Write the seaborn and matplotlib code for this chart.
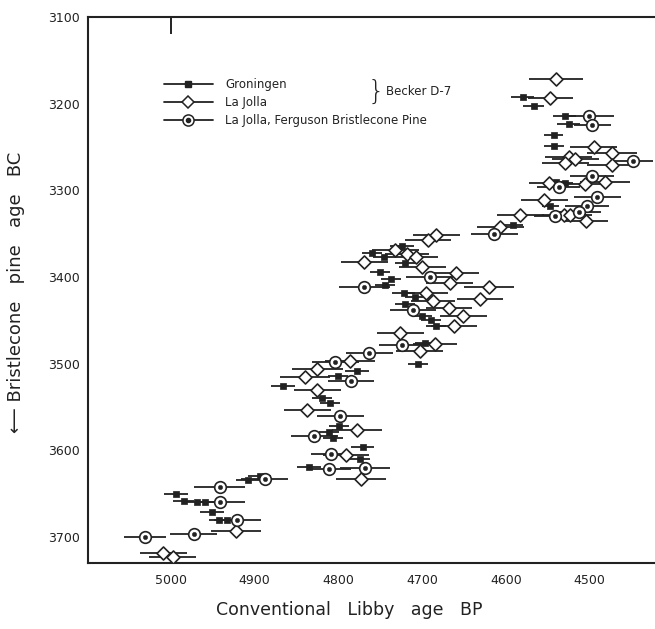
import matplotlib
matplotlib.use("Agg")
import matplotlib.pyplot as plt
import seaborn as sns
import pandas as pd
from matplotlib.lines import Line2D
from matplotlib.legend_handler import HandlerTuple

# ---------------- data ----------------
gron_x = [4580, 4567, 4530, 4525, 4543, 4543, 4540, 4530, 4547, 4592,
          4724, 4746, 4760, 4720, 4750, 4737, 4744, 4722, 4708, 4720,
          4700, 4690, 4683, 4697, 4705, 4778, 4800, 4866, 4820, 4810,
          4799, 4811, 4806, 4771, 4774, 4835, 4908, 4894, 4994, 4985,
          4969, 4959, 4951, 4943, 4933]
gron_y = [3192, 3203, 3214, 3224, 3236, 3249, 3290, 3292, 3318, 3340,
          3364, 3377, 3372, 3384, 3394, 3402, 3409, 3418, 3423, 3431,
          3445, 3450, 3457, 3476, 3501, 3509, 3514, 3526, 3540, 3546,
          3572, 3579, 3586, 3596, 3610, 3619, 3634, 3630, 3651, 3659,
          3660, 3660, 3671, 3680, 3680]
gron_err = [14, 13, 14, 14, 11, 12, 10, 10, 10, 12,
            14, 13, 12, 12, 12, 12, 12, 14, 13, 12,
            12, 12, 12, 12, 12, 14, 12, 14, 12, 12,
            12, 12, 12, 14, 12, 14, 14, 14, 14, 12,
            12, 12, 14, 12, 12]

lj_x = [4540, 4547, 4495, 4473, 4525, 4517, 4529, 4473, 4549, 4505,
        4482, 4554, 4583, 4531, 4523, 4504, 4607, 4683, 4693, 4732,
        4718, 4707, 4769, 4700, 4660, 4667, 4620, 4695, 4631, 4687,
        4668, 4651, 4662, 4726, 4685, 4703, 4786, 4825, 4840, 4825,
        4837, 4778, 4791, 4773, 4922, 5009, 4998]
lj_y = [3172, 3194, 3250, 3257, 3261, 3264, 3269, 3271, 3292, 3293,
        3290, 3311, 3328, 3328, 3329, 3335, 3342, 3351, 3357, 3369,
        3373, 3377, 3383, 3389, 3395, 3407, 3411, 3418, 3425, 3428,
        3436, 3445, 3456, 3465, 3477, 3485, 3497, 3506, 3515, 3530,
        3554, 3577, 3605, 3633, 3693, 3719, 3723]
lj_err = [32, 27, 28, 30, 28, 28, 28, 30, 24, 28,
          30, 28, 28, 26, 26, 26, 28, 28, 28, 28,
          26, 26, 28, 28, 28, 28, 30, 26, 28, 26,
          28, 28, 28, 28, 26, 28, 30, 30, 30, 28,
          28, 30, 28, 30, 30, 28, 28]

fg_x = [4501, 4497, 4448, 4497, 4537, 4491, 4503, 4541, 4513, 4614,
        4691, 4769, 4711, 4724, 4763, 4804, 4785, 4798, 4829, 4809,
        4811, 4768, 4888, 4942, 4941, 4921, 5031, 4973]
fg_y = [3214, 3225, 3266, 3283, 3296, 3308, 3318, 3330, 3325, 3350,
        3400, 3411, 3438, 3479, 3488, 3498, 3520, 3561, 3583, 3604,
        3622, 3621, 3633, 3642, 3660, 3680, 3700, 3697]
fg_err = [30, 22, 24, 26, 26, 28, 26, 26, 26, 28,
          28, 30, 28, 28, 28, 28, 28, 28, 28, 24,
          26, 30, 28, 30, 30, 28, 25, 28]

x_ticks = [5000, 4900, 4800, 4700, 4600, 4500]
y_ticks = [3100, 3200, 3300, 3400, 3500, 3600, 3700]

labels = ["Groningen", "La Jolla", "La Jolla, Ferguson Bristlecone Pine"]

# ---------------- figure ----------------
sns.set_theme(style="white")
plt.rcParams["font.family"] = ["DejaVu Sans"]

fig = plt.figure(figsize=(6.55, 6.29), dpi=100)
ax = fig.add_axes([0.1344, 0.105, 0.8656, 0.868])

df_g = pd.DataFrame({"x": gron_x, "y": gron_y, "e": gron_err})
df_l = pd.DataFrame({"x": lj_x, "y": lj_y, "e": lj_err})
df_f = pd.DataFrame({"x": fg_x, "y": fg_y, "e": fg_err})

lw = 1.3
for df in (df_g, df_l, df_f):
    ax.hlines(df["y"], df["x"] - df["e"], df["x"] + df["e"], color="#222222", lw=lw, zorder=2)

sns.scatterplot(data=df_g, x="x", y="y", marker="s", s=16, color="#222222",
                edgecolor="#222222", linewidth=0.5, ax=ax, zorder=3)
sns.scatterplot(data=df_l, x="x", y="y", marker="D", s=44, color="white",
                edgecolor="#222222", linewidth=1.2, ax=ax, zorder=4)
sns.scatterplot(data=df_f, x="x", y="y", marker="o", s=70, color="white",
                edgecolor="#222222", linewidth=1.2, ax=ax, zorder=4)
sns.scatterplot(data=df_f, x="x", y="y", marker="o", s=10, color="#222222",
                edgecolor="#222222", linewidth=0.3, ax=ax, zorder=5)

ax.set_xlim(5099, 4422)
ax.set_ylim(3730, 3100)
ax.set_xticks(x_ticks)
ax.set_yticks(y_ticks)
ax.set_xticklabels([str(v) for v in x_ticks], fontsize=9)
ax.set_yticklabels([str(v) for v in y_ticks], fontsize=9)
ax.tick_params(axis="both", direction="in", length=10, width=1.4, colors="#222222",
               labelcolor="#222222", pad=8)
ax.tick_params(axis="y", pad=6)

sec = ax.secondary_xaxis("top")
sec.set_xticks([5000])
sec.set_xticklabels([""])
sec.tick_params(direction="in", length=12, width=1.4, colors="#222222")
sec.spines["top"].set_visible(False)

for side in ("left", "bottom", "top"):
    ax.spines[side].set_color("#222222")
    ax.spines[side].set_linewidth(1.5)
ax.spines["right"].set_visible(False)

ax.set_xlabel("Conventional   Libby   age   BP", fontsize=12.5, color="#222222", labelpad=10)
ax.xaxis.label.set_position((0.46, 0))
ax.set_ylabel("")
fig.text(0.024, 0.535, "\u27f5 Bristlecone   pine   age   BC", rotation=90, fontsize=13,
         color="#222222", ha="center", va="center")

h_g = Line2D([], [], color="#222222", lw=lw, marker="s", markersize=4)
h_l = Line2D([], [], color="#222222", lw=lw, marker="D", markersize=6, mfc="white", mec="#222222", mew=1.1)
h_f1 = Line2D([], [], color="#222222", lw=lw, marker="o", markersize=8, mfc="white", mec="#222222", mew=1.1)
h_f2 = Line2D([], [], color="none", lw=0, marker="o", markersize=3, mfc="#222222", mec="#222222")
leg = ax.legend([h_g, h_l, (h_f1, h_f2)], labels,
                handler_map={tuple: HandlerTuple(ndivide=1)},
                loc="upper left", bbox_to_anchor=(0.125, 0.897), frameon=False,
                fontsize=8.5, handlelength=4.2, handletextpad=1.0, labelspacing=0.42,
                borderaxespad=0)
for t in leg.get_texts():
    t.set_color("#222222")

ax.text(0.508, 0.864, "}", transform=ax.transAxes, fontsize=19, color="#222222",
        va="center", ha="center", fontweight="light")
ax.text(0.525, 0.864, "Becker D-7", transform=ax.transAxes, fontsize=8.5, color="#222222",
        va="center", ha="left")

fig.savefig("out.png", dpi=100)
